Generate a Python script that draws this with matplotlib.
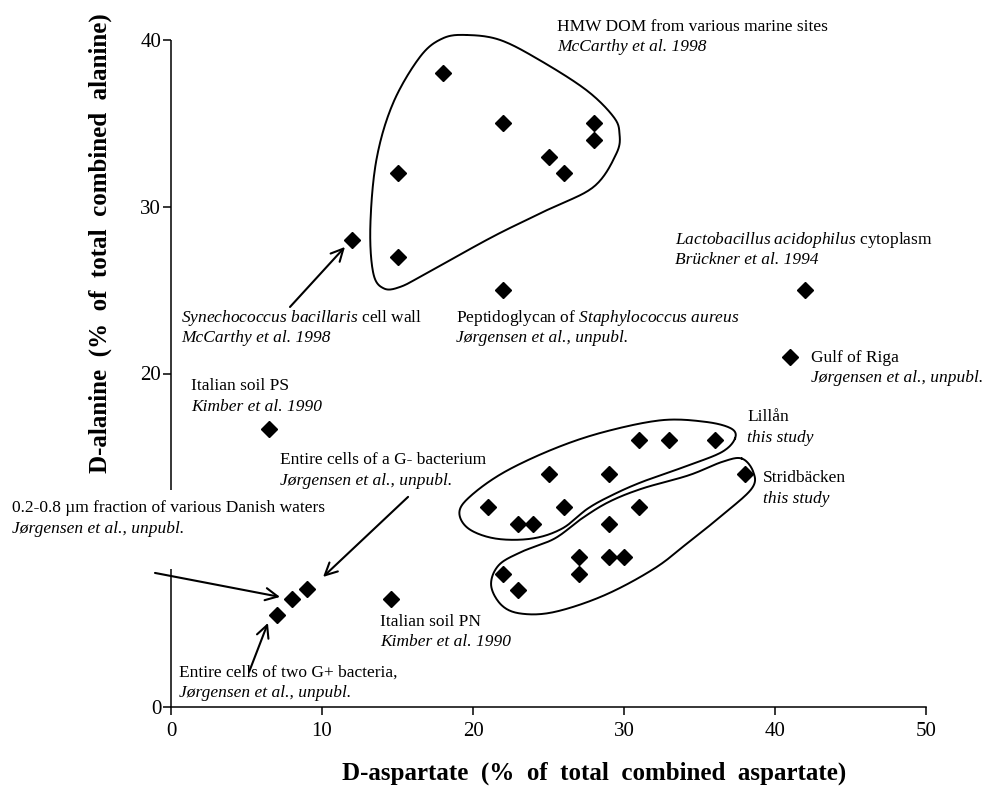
import numpy as np
import matplotlib
matplotlib.use("Agg")
import matplotlib.pyplot as plt

plt.rcParams['font.family'] = ['Liberation Serif', 'DejaVu Serif']
plt.rcParams['mathtext.fontset'] = 'custom'
plt.rcParams['mathtext.rm'] = 'Liberation Serif'
plt.rcParams['mathtext.it'] = 'Liberation Serif:italic'
plt.rcParams['mathtext.bf'] = 'Liberation Serif:bold'

# data points (D-aspartate %, D-alanine %)
HMW_X = [18, 15, 15, 22, 25, 26, 28, 28]
HMW_Y = [38, 32, 27, 35, 33, 32, 35, 34]

LILLAN_X = [21, 23, 24, 26, 25, 29, 31, 33, 36]
LILLAN_Y = [12, 11, 11, 12, 14, 14, 16, 16, 16]

STRID_X = [38, 31, 29, 27, 29, 30, 27, 22, 23]
STRID_Y = [14, 12, 11, 9, 9, 9, 8, 8, 7]

# single reference samples
REF_X = [12, 22, 42, 41, 6.5, 14.6, 9, 8, 7]
REF_Y = [28, 25, 25, 21, 16.7, 6.5, 7.1, 6.5, 5.5]

# hand drawn group outlines (data coords)
HMW_OUTLINE = [(19.6, 40.3), (21.8, 40.0), (24.4, 38.8), (27.5, 37.0), (29.3, 35.4),
               (29.7, 34.4), (29.5, 33.2), (28.0, 31.2), (24.9, 29.8), (21.3, 28.2),
               (16.9, 26.0), (15.2, 25.2), (14.1, 25.1), (13.4, 26.0), (13.2, 28.8),
               (13.6, 32.8), (14.7, 36.2), (16.5, 39.0), (18.0, 40.1)]
LILLAN_OUTLINE = [(37.35, 16.1), (36.5, 15.3), (34.3, 14.5), (31.2, 13.5), (29.2, 12.7),
                  (27.6, 11.9), (25.9, 10.7), (23.9, 10.1), (21.5, 10.1), (19.7, 10.7),
                  (19.1, 11.7), (19.9, 12.7), (22.1, 14.1), (25.4, 15.5), (28.7, 16.5),
                  (32.5, 17.2), (35.4, 17.1), (37.1, 16.7)]
STRID_OUTLINE = [(37.8, 14.9), (38.56, 14.1), (38.46, 13.1), (36.5, 11.5), (34.3, 9.9),
                 (32.0, 8.3), (28.7, 6.7), (25.4, 5.7), (23.2, 5.6), (21.9, 6.1),
                 (21.2, 7.3), (21.7, 8.5), (23.2, 9.3), (25.4, 10.1), (27.2, 11.3),
                 (29.0, 12.3), (31.2, 13.1), (34.3, 13.9), (36.5, 14.7)]


def closed_curve(pts, n=20):
    p = np.array(pts, dtype=float)
    m = len(p)
    out = []
    for i in range(m):
        p0, p1, p2, p3 = p[i - 1], p[i], p[(i + 1) % m], p[(i + 2) % m]
        for t in np.linspace(0, 1, n, endpoint=False):
            t2, t3 = t * t, t * t * t
            out.append(0.5 * ((2 * p1) + (-p0 + p2) * t +
                              (2 * p0 - 5 * p1 + 4 * p2 - p3) * t2 +
                              (-p0 + 3 * p1 - 3 * p2 + p3) * t3))
    out.append(out[0])
    return np.array(out)


fig = plt.figure(figsize=(9.85, 7.87), dpi=100)
ax = fig.add_axes([171 / 985, 1 - 707 / 787, 755 / 985, 667 / 787])

mk = dict(marker='D', color='black', markersize=8, linestyle='none', clip_on=False)
ax.plot(HMW_X, HMW_Y, **mk)
ax.plot(LILLAN_X, LILLAN_Y, **mk)
ax.plot(STRID_X, STRID_Y, **mk)
ax.plot(REF_X, REF_Y, **mk)

for outline in (HMW_OUTLINE, LILLAN_OUTLINE, STRID_OUTLINE):
    c = closed_curve(outline)
    ax.plot(c[:, 0], c[:, 1], color='black', lw=1.4, clip_on=False)

ax.set_xlim(0, 50)
ax.set_ylim(0, 40)
ax.set_xticks([0, 10, 20, 30, 40, 50])
ax.set_yticks([0, 20, 30, 40])
ax.tick_params(direction='out', length=6, width=1.1, labelsize=15)
ax.tick_params(axis='x', pad=5)
ax.tick_params(axis='y', pad=1)
for s in ('top', 'right', 'left'):
    ax.spines[s].set_visible(False)
ax.spines['bottom'].set_linewidth(1.1)
# left axis is broken where the Danish waters label crosses it
ax.plot([0, 0], [0, 8.3], color='black', lw=1.1, clip_on=False, solid_capstyle='butt')
ax.plot([0, 0], [13.0, 40], color='black', lw=1.1, clip_on=False, solid_capstyle='butt')

fs = 12.5
labels = [
    (25.56, 40.78, 'HMW DOM from various marine sites', 'normal'),
    (25.56, 39.58, 'McCarthy et al. 1998', 'italic'),
    (33.38, 28.0, r'$\mathit{Lactobacillus\ acidophilus}$ cytoplasm', 'normal'),
    (33.38, 26.8, 'Brückner et al. 1994', 'italic'),
    (42.38, 20.93, 'Gulf of Riga', 'normal'),
    (42.38, 19.75, 'Jørgensen et al., unpubl.', 'italic'),
    (0.66, 23.33, r'$\mathit{Synechococcus\ bacillaris}$ cell wall', 'normal'),
    (0.66, 22.13, 'McCarthy et al. 1998', 'italic'),
    (18.87, 23.33, r'Peptidoglycan of $\mathit{Staphylococcus\ aureus}$', 'normal'),
    (18.87, 22.13, 'Jørgensen et al., unpubl.', 'italic'),
    (1.32, 19.25, 'Italian soil PS', 'normal'),
    (1.32, 17.99, 'Kimber et al. 1990', 'italic'),
    (7.22, 14.81, 'Entire cells of a G- bacterium', 'normal'),
    (7.22, 13.55, 'Jørgensen et al., unpubl.', 'italic'),
    (-10.53, 11.93, '0.2-0.8 µm fraction of various Danish waters', 'normal'),
    (-10.53, 10.67, 'Jørgensen et al., unpubl.', 'italic'),
    (13.84, 5.10, 'Italian soil PN', 'normal'),
    (13.84, 3.90, 'Kimber et al. 1990', 'italic'),
    (0.53, 2.04, 'Entire cells of two G+ bacteria,', 'normal'),
    (0.53, 0.84, 'Jørgensen et al., unpubl.', 'italic'),
    (38.15, 17.39, 'Lillån', 'normal'),
    (38.15, 16.13, 'this study', 'italic'),
    (39.2, 13.73, 'Stridbäcken', 'normal'),
    (39.2, 12.47, 'this study', 'italic'),
]
for x, y, s, st in labels:
    ax.text(x, y, s, fontsize=fs, style=st, ha='left', va='center')

arrows = [
    ((7.88, 23.99), (11.52, 27.59)),
    ((15.7, 12.6), (10.07, 7.8)),
    ((-1.06, 8.04), (7.22, 6.6)),
    ((5.17, 2.10), (6.42, 5.04)),
]
for tail, head in arrows:
    ax.annotate('', xy=head, xytext=tail, annotation_clip=False,
                arrowprops=dict(arrowstyle='->', lw=1.5, color='black',
                                mutation_scale=22, shrinkA=0, shrinkB=0))

fig.text(594 / 985, 0.017, 'D-aspartate  (%  of  total  combined  aspartate)',
         fontsize=18, fontweight='bold', ha='center', va='center')
fig.text(100 / 985, 1 - 243 / 787, 'D-alanine  (%  of  total  combined  alanine)',
         fontsize=18, fontweight='bold', ha='center', va='center', rotation=90)

fig.savefig('out.png', dpi=100)
